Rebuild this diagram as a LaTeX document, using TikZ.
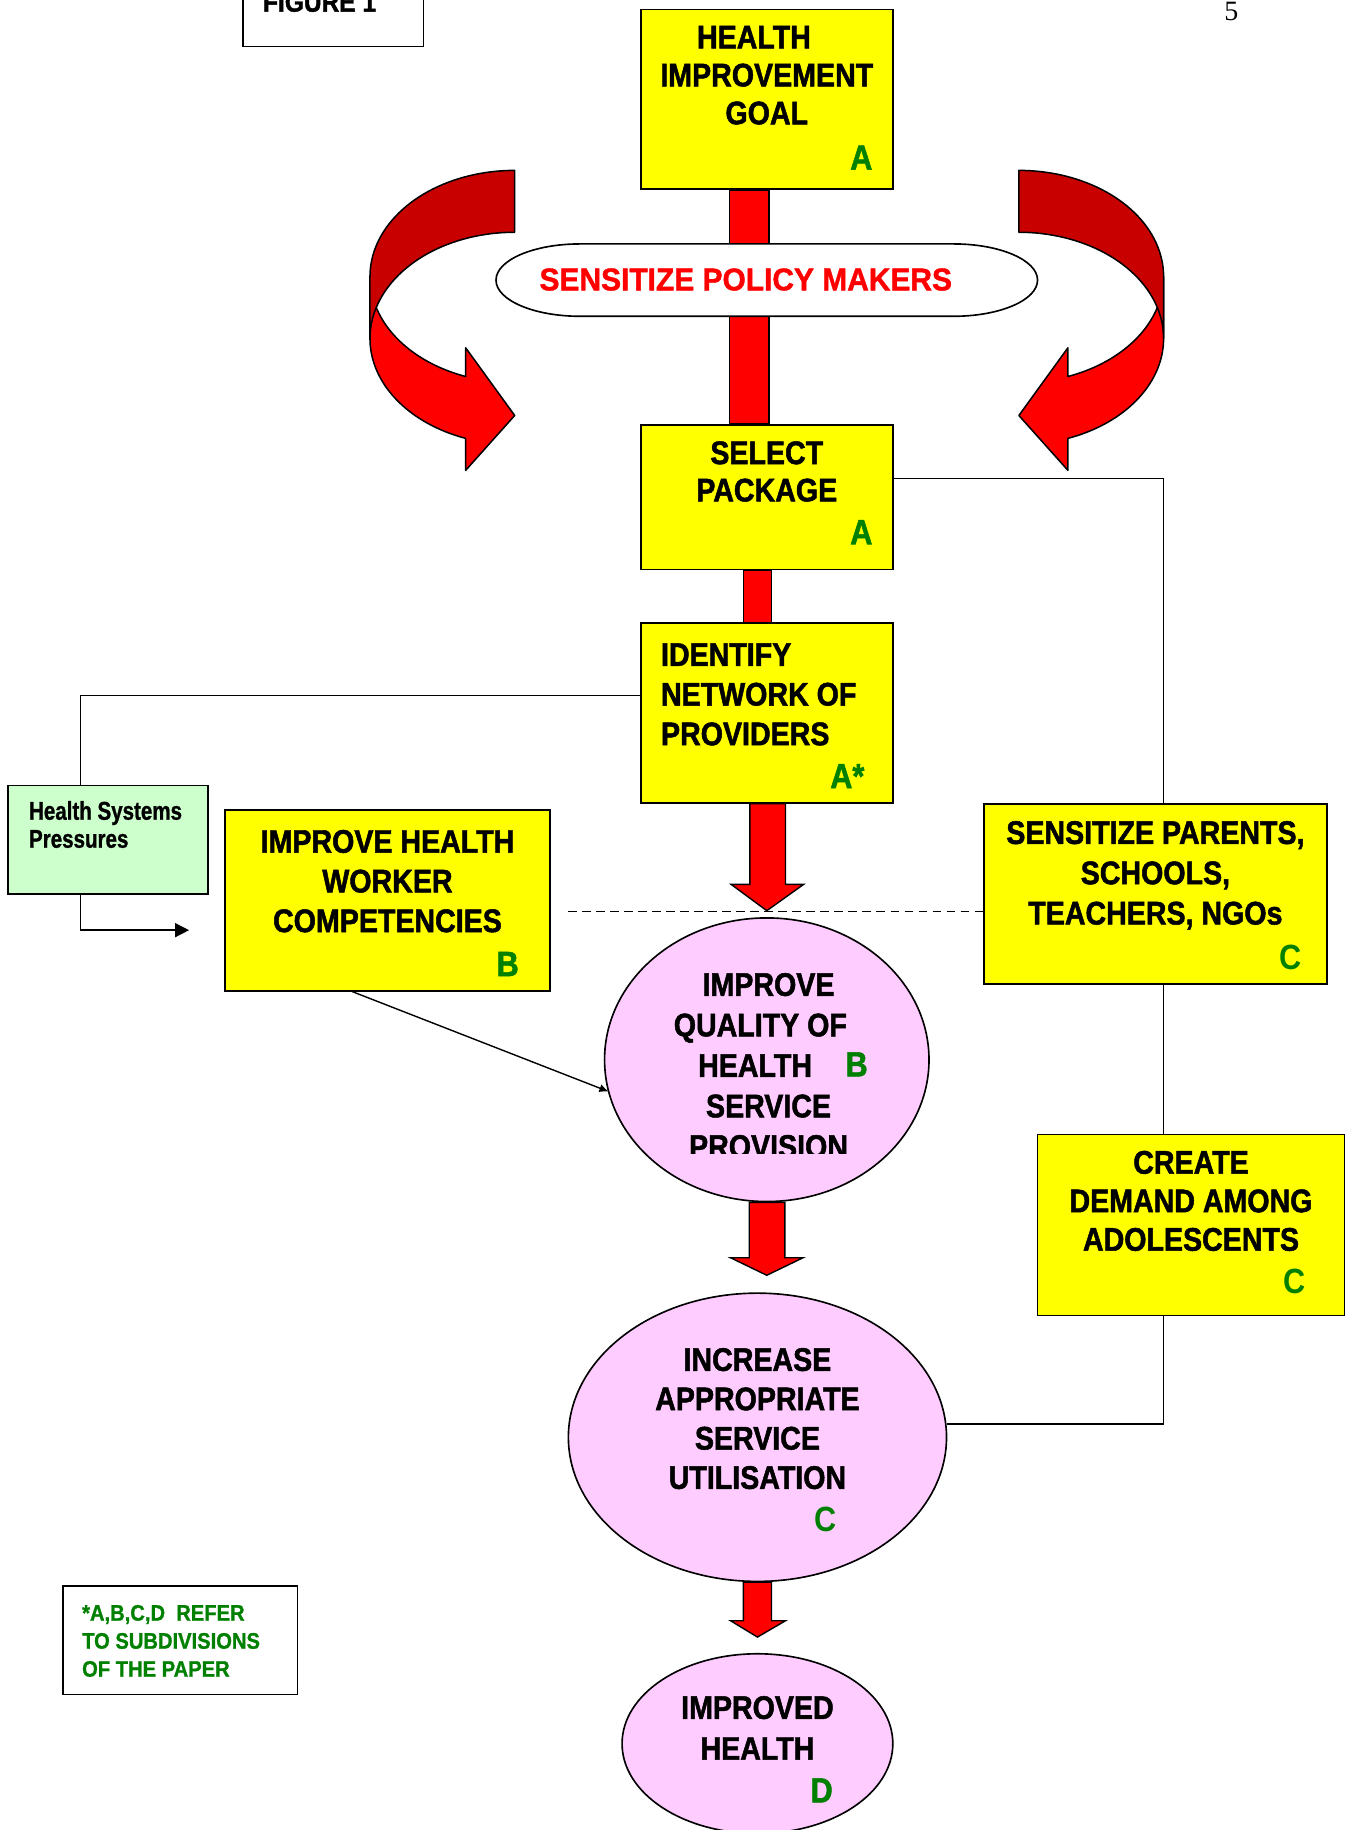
\documentclass[tikz,border=0pt]{standalone}
\usepackage{fontspec}
\setmainfont{Liberation Sans}
\newfontfamily\fmain{Liberation Sans}[FakeStretch=0.875,BoldFeatures={FakeBold=1.5}]
\newfontfamily\fcreg{Liberation Sans}[FakeStretch=0.875]
\newfontfamily\fnarrow{Liberation Sans}[FakeStretch=0.80,BoldFeatures={FakeBold=1}]
\newfontfamily\fnote{Liberation Sans}[FakeStretch=0.90,BoldFeatures={FakeBold=1}]
\newfontfamily\fpolicy{Liberation Sans}[FakeStretch=0.95,BoldFeatures={FakeBold=1.2}]
\newfontfamily\fserif{Liberation Serif}
\usetikzlibrary{shapes.geometric,arrows.meta,calc}
\definecolor{ylw}{HTML}{FFFF00}
\definecolor{grn}{HTML}{008000}
\definecolor{pnk}{HTML}{FFCCFF}
\definecolor{lgrn}{HTML}{CCFFCC}
\definecolor{rd}{HTML}{FF0000}
\definecolor{drd}{HTML}{C80000}
\begin{document}
\begin{tikzpicture}[x=0.5pt,y=-0.5pt,
  box/.style={shape=rectangle,draw=black,line width=0.7pt,fill=ylw,inner sep=0pt},
  oval/.style={shape=ellipse,draw=black,line width=0.7pt,fill=pnk,inner sep=0pt},
  txt/.style={inner sep=0pt,align=center,font=\fmain\bfseries\fontsize{14}{17}\selectfont},
  lt/.style={inner sep=0pt,text=grn,font=\fmain\bfseries\fontsize{15}{18}\selectfont},
  ltr/.style={inner sep=0pt,text=grn,font=\fcreg\bfseries\fontsize{15}{18}\selectfont},
  conn/.style={draw=black,line width=0.6pt},
  redshape/.style={fill=rd,draw=black,line width=0.6pt,line join=miter},
  curvfront/.style={fill=rd,draw=black,line width=0.65pt,line join=round},
  curvback/.style={fill=drd,draw=black,line width=0.65pt,line join=round},
]
\useasboundingbox (0,0) rectangle (1153,1568);

% ---------- boxes and ellipses ----------
\node[box,minimum width=77.5pt,minimum height=35pt,fill=white] (fig) at (285.5,5) {};
\node[box,minimum width=108pt,minimum height=77pt] (goal) at (657,85) {};
\node[box,minimum width=108pt,minimum height=62pt] (select) at (657,426) {};
\node[box,minimum width=108pt,minimum height=77pt] (identify) at (657,611) {};
\node[box,minimum width=85.5pt,minimum height=46.5pt,fill=lgrn] (hsp) at (92.5,719.5) {};
\node[box,minimum width=139pt,minimum height=77.5pt] (hw) at (332,771.5) {};
\node[box,minimum width=147pt,minimum height=77pt] (sens) at (990,766) {};
\node[box,minimum width=131.5pt,minimum height=77.5pt] (create) at (1020.5,1049.5) {};
\node[box,minimum width=100.5pt,minimum height=46.5pt,fill=white] (note) at (154.5,1405.5) {};

% connector behind ellipse
\draw[conn,-{Latex[length=4pt,width=3.5pt]}] ([xshift=-15pt]hw.south) -- (657+139*cos 193,908-121.5*sin 193) coordinate (qin);

\node[oval,minimum width=139pt,minimum height=121.5pt] (quality) at (657,908) {};
\node[oval,minimum width=162pt,minimum height=123.5pt] (util) at (649,1231.5) {};
\node[oval,minimum width=116pt,minimum height=77pt] (improved) at (649,1494) {};

% ---------- red bars and block arrows ----------
\draw[redshape] ($(goal.south)+(-32,0)$) rectangle ($(select.north)+(2,0)$);
\draw[redshape] ($(select.south)+(-20,0)$) rectangle ($(identify.north)+(4,0)$);
\draw[redshape] ($(identify.south)+(-14.5,0)$) -- ($(identify.south)+(16,0)$)
  -- ($(quality.north)+(16,-28)$) -- ($(quality.north)+(31.5,-28)$)
  -- ($(quality.north)+(0,-5.5)$) -- ($(quality.north)+(-30.5,-28)$)
  -- ($(quality.north)+(-14.5,-28)$) -- cycle;
\draw[redshape] ($(quality.south)+(-15,0)$) -- ($(quality.south)+(15.5,0)$)
  -- ($(quality.south)+(15.5,47.5)$) -- ($(quality.south)+(31,47.5)$)
  -- ($(quality.south)+(0,62.5)$) -- ($(quality.south)+(-31,47.5)$)
  -- ($(quality.south)+(-15,47.5)$) -- cycle;
\draw[redshape] ($(util.south)+(-12,0)$) -- ($(util.south)+(12,0)$)
  -- ($(util.south)+(12,33)$) -- ($(util.south)+(24,33)$)
  -- ($(util.south)+(0,47)$) -- ($(util.south)+(-23,33)$)
  -- ($(util.south)+(-12,33)$) -- cycle;

% ---------- policy makers oval ----------
\draw[fill=white,draw=black,line width=0.7pt] (497,209) -- (817,209)
  arc[start angle=90,end angle=-90,x radius=36pt,y radius=15.5pt]
  -- (497,271) arc[start angle=270,end angle=90,x radius=36pt,y radius=15.5pt] -- cycle;
\node[inner sep=0pt,text=rd,font=\fpolicy\bfseries\fontsize{13.5}{16}\selectfont] (policy) at (639,239.5) {SENSITIZE POLICY MAKERS};

% ---------- connectors ----------
\coordinate (rx) at (997,0);
\coordinate (lx) at (69,0);
\coordinate (hspend) at (162,797);
\coordinate (dl) at (487,781);
\draw[conn] ([yshift=8pt]select.east) -| (rx |- sens.north);
\draw[conn] (rx |- sens.south) -- (rx |- create.north);
\draw[conn] (rx |- create.south) |- ([yshift=5.75pt]util.east);
\draw[conn] ([yshift=7.5pt]identify.west) -| (lx |- hsp.north);
\draw[conn,-{Triangle[length=6pt,width=6pt]}] (lx |- hsp.south) |- (hspend);
\draw[conn,line width=0.7pt,dash pattern=on 3.5pt off 2.5pt] (dl) -- (dl -| sens.west);

% ---------- curved arrows ----------
\draw[curvfront]
  plot[domain=180:250.2,samples=40] ({441+124*cos(\x)},{237-91*sin(\x)})
  -- (399,298) -- (441,356) -- (399,403)
  -- plot[domain=250.2:180,samples=40] ({441+124*cos(\x)},{290-91*sin(\x)}) -- cycle;
\draw[curvback]
  plot[domain=90:180,samples=40] ({441+124*cos(\x)},{237-91*sin(\x)})
  -- plot[domain=180:90,samples=40] ({441+124*cos(\x)},{290-91*sin(\x)}) -- cycle;
\draw[curvfront]
  plot[domain=180:250.2,samples=40] ({873-124*cos(\x)},{237-91*sin(\x)})
  -- (915,298) -- (873,356) -- (915,403)
  -- plot[domain=250.2:180,samples=40] ({873-124*cos(\x)},{290-91*sin(\x)}) -- cycle;
\draw[curvback]
  plot[domain=90:180,samples=40] ({873-124*cos(\x)},{237-91*sin(\x)})
  -- plot[domain=180:90,samples=40] ({873-124*cos(\x)},{290-91*sin(\x)}) -- cycle;

% ---------- texts ----------
\node[inner sep=0pt,anchor=base west,font=\fmain\bfseries\fontsize{12}{14}\selectfont] (figt) at (225,10) {FIGURE 1};
\node[inner sep=0pt,font=\fserif\fontsize{12}{14}\selectfont] (pagenum) at (1055,10) {5};

\node[txt,font=\fmain\bfseries\fontsize{14}{16.25}\selectfont] (goalt) at (657,64.5) {HEALTH\hspace*{11pt}\null\\IMPROVEMENT\\GOAL};
\node[txt,font=\fmain\bfseries\fontsize{14}{16}\selectfont] (selectt) at (657,404) {SELECT\\PACKAGE};
\node[txt,align=left,anchor=west] (identifyt) at (566,595) {IDENTIFY\\NETWORK OF\\PROVIDERS};
\node[txt] (hwt) at (332,755) {IMPROVE HEALTH\\WORKER\\COMPETENCIES};
\node[txt,font=\fmain\bfseries\fontsize{14}{17.25}\selectfont] (senst) at (990,750) {SENSITIZE PARENTS,\\SCHOOLS,\\TEACHERS, NGOs};
\node[txt,font=\fmain\bfseries\fontsize{14}{16.5}\selectfont] (createt) at (1020.5,1029) {CREATE\\DEMAND AMONG\\ADOLESCENTS};
\begin{scope}
  \clip (500,780) rectangle (820,988);
  \node[txt,font=\fmain\bfseries\fontsize{14}{17.35}\selectfont] (qualityt) at (658.5,913) {IMPROVE\\QUALITY OF\hspace*{7pt}\null\\HEALTH\hspace*{11.5pt}\null\\SERVICE\\PROVISION};
\end{scope}
\node[txt,font=\fmain\bfseries\fontsize{14}{16.85}\selectfont] (utilt) at (649,1215.5) {INCREASE\\APPROPRIATE\\SERVICE\\UTILISATION};
\node[txt,font=\fmain\bfseries\fontsize{14}{17.5}\selectfont] (improvedt) at (649,1480.5) {IMPROVED\\HEALTH};
\node[inner sep=0pt,align=left,anchor=west,font=\fnarrow\bfseries\fontsize{11}{12}\selectfont] (hspt) at (24.5,706.5) {Health Systems\\Pressures};
\node[inner sep=0pt,align=left,anchor=west,text=grn,font=\fnote\bfseries\fontsize{9.6}{12}\selectfont] (notet) at (70,1406) {*A,B,C,D\ \ REFER\\TO SUBDIVISIONS\\OF THE PAPER};

% ---------- section letters ----------
\node[lt] (la1) at (738,135) {A};
\node[lt] (la2) at (738,456) {A};
\node[lt] (la3) at (726,665) {A*};
\node[lt] (lb1) at (435,826) {B};
\node[lt] (lb2) at (734,912) {B};
\node[ltr] (lc1) at (1106,820) {C};
\node[ltr] (lc2) at (1109,1098) {C};
\node[ltr] (lc3) at (707,1302) {C};
\node[lt] (ld) at (704,1534) {D};
\end{tikzpicture}
\end{document}
